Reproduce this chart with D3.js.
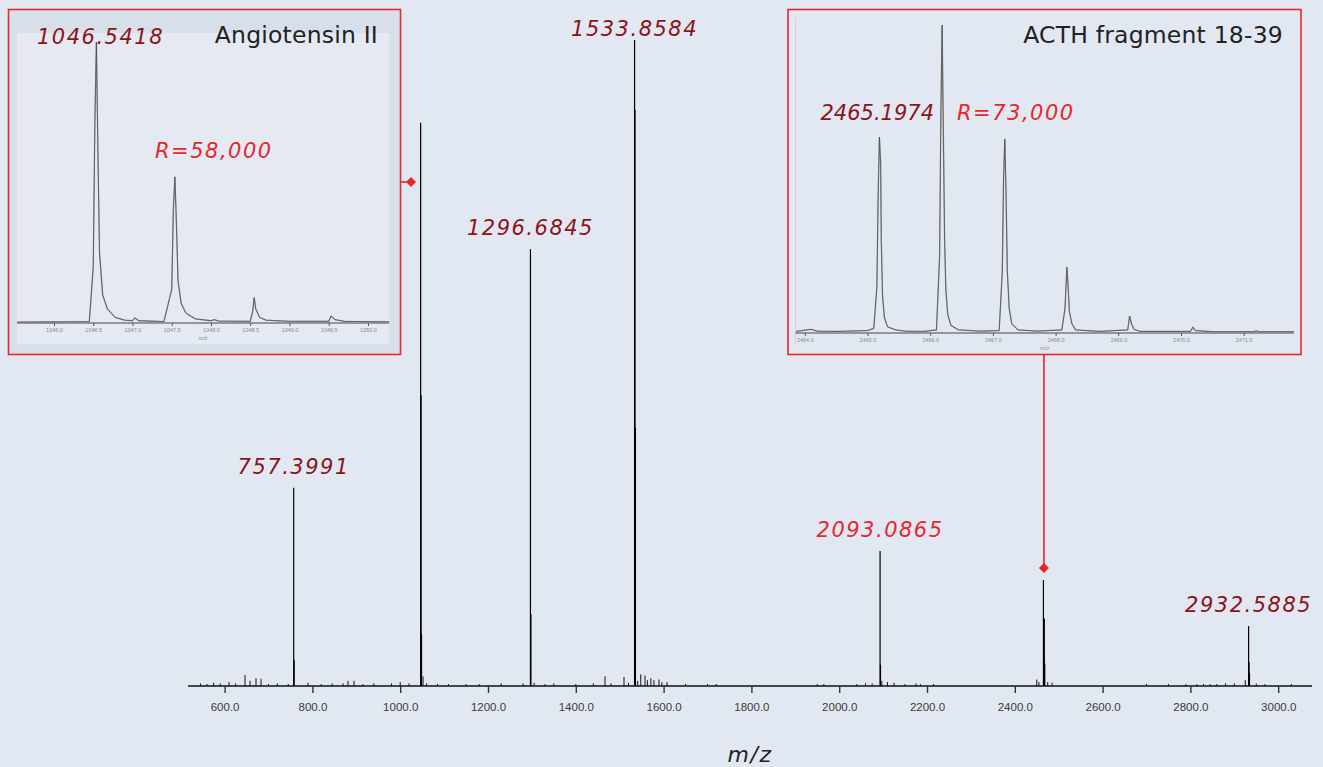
<!DOCTYPE html>
<html>
<head>
<meta charset="utf-8">
<script src="https://cdn.jsdelivr.net/npm/d3@7"></script>
<style>
  html, body { margin: 0; padding: 0; background: #e2e8f2; }
  svg { display: block; }
  .big { font-family: "DejaVu Sans", sans-serif; font-size: 21px; letter-spacing: 1.5px; }
  .num { font-style: italic; }
  .title { font-family: "DejaVu Sans", sans-serif; font-size: 23.5px; letter-spacing: 0.2px; }
  .tick-lbl { font-family: "Liberation Sans", Arial, sans-serif; font-size: 11.5px; fill: #3a3a3a; }
  .mini-lbl { font-family: "Liberation Sans", Arial, sans-serif; font-size: 5.5px; fill: #8a8a8a; }
</style>
</head>
<body>
<svg id="chart" width="1323" height="767"></svg>
<script>
// main spectrum: monoisotopic + isotope lines (m/z, relative intensity %)
const peakMz = [757.40, 758.40, 1046.54, 1047.54, 1048.54, 1296.68, 1297.69, 1533.86, 1534.86, 1535.86,
  2093.09, 2094.09, 2465.20, 2466.20, 2467.20, 2468.20, 2932.59, 2933.59, 2934.59];
const peakInt = [30.7, 4.0, 87.2, 45.0, 8.0, 67.6, 11.1, 100, 89.2, 40.0,
  20.9, 3.3, 16.4, 10.5, 10.4, 3.5, 9.3, 3.7, 2.0];

// small background peaks along the baseline
const noiseMz = [545, 560, 575, 590, 610, 625, 646.5, 657.9, 671.5, 682.9, 700, 720, 745, 790, 820, 845, 870, 881, 894.8,
  915, 940, 980, 1000, 1020, 1052, 1060, 1085, 1110, 1150, 1180, 1230, 1280, 1305, 1330, 1350, 1400, 1440, 1466.5,
  1480, 1509.8, 1520, 1541, 1548, 1557.6, 1563, 1571, 1578, 1589.5, 1596, 1607.8, 1650, 1700, 1720, 1950, 1965,
  2040, 2060, 2075, 2097, 2110, 2125, 2150, 2175, 2185, 2215, 2450, 2455, 2475, 2485, 2700, 2750, 2790, 2815,
  2830, 2845, 2860, 2880, 2900, 2925, 2950, 2970, 3030];
const noiseInt = [0.4, 0.3, 0.5, 0.4, 0.6, 0.4, 1.7, 0.8, 1.2, 1.1, 0.3, 0.4, 0.3, 0.5, 0.3, 0.4, 0.4, 0.8, 0.8,
  0.3, 0.4, 0.4, 0.6, 0.4, 1.5, 0.4, 0.3, 0.3, 0.3, 0.3, 0.4, 0.4, 0.5, 0.3, 0.4, 0.3, 0.4, 1.5,
  0.4, 1.4, 0.5, 0.8, 1.8, 1.6, 0.9, 1.2, 0.9, 1.0, 0.6, 0.6, 0.3, 0.3, 0.3, 0.3, 0.3,
  0.3, 0.4, 0.4, 0.8, 0.6, 0.5, 0.3, 0.4, 0.3, 0.3, 1.0, 0.6, 0.6, 0.5, 0.3, 0.3, 0.3, 0.3,
  0.3, 0.3, 0.3, 0.4, 0.4, 0.9, 0.4, 0.3, 0.3];

const mainTicks = [600, 800, 1000, 1200, 1400, 1600, 1800, 2000, 2200, 2400, 2600, 2800, 3000];

const labelText = ['757.3991', '1296.6845', '1533.8584', '2093.0865', '2932.5885'];
const labelMz = [757.40, 1296.68, 1533.86, 2093.09, 2932.59];
const labelTop = [30.7, 67.6, 100, 20.9, 9.3];
const labelRed = [false, false, false, true, false];

// Angiotensin II inset profile
const angioMz = [1045.53, 1046.0, 1046.45, 1046.50, 1046.52, 1046.54, 1046.56, 1046.58, 1046.62, 1046.68, 1046.78, 1046.9,
  1047.0, 1047.03, 1047.08, 1047.4, 1047.50, 1047.52, 1047.54, 1047.56, 1047.58, 1047.62, 1047.68, 1047.8, 1048.0,
  1048.04, 1048.1, 1048.5, 1048.53, 1048.55, 1048.57, 1048.62, 1048.7, 1049.0, 1049.5, 1049.53, 1049.58, 1049.7, 1050.27];
const angioInt = [0.3, 0.4, 0.5, 20, 70, 100, 60, 25, 10, 5, 2, 1,
  0.8, 1.8, 0.8, 0.5, 12, 40, 52, 35, 15, 7, 3.5, 1.5, 0.8,
  1.2, 0.7, 0.6, 4, 9, 5, 2, 1, 0.6, 0.6, 2.5, 1.2, 0.6, 0.4];
const angioTicks = [1046.0, 1046.5, 1047.0, 1047.5, 1048.0, 1048.5, 1049.0, 1049.5, 1050.0];

// ACTH fragment 18-39 inset profile
const acthMz = [2463.86, 2464.1, 2464.2, 2464.5, 2465.0, 2465.1, 2465.15, 2465.17, 2465.19, 2465.21, 2465.22, 2465.24,
  2465.27, 2465.32, 2465.45, 2465.6, 2465.9, 2466.1, 2466.15, 2466.17, 2466.19, 2466.21, 2466.23, 2466.25, 2466.28,
  2466.33, 2466.45, 2466.8, 2467.1, 2467.15, 2467.17, 2467.19, 2467.21, 2467.23, 2467.26, 2467.3, 2467.4, 2467.7,
  2468.1, 2468.15, 2468.18, 2468.20, 2468.22, 2468.26, 2468.32, 2468.7, 2469.15, 2469.18, 2469.21, 2469.25, 2469.35,
  2470.15, 2470.19, 2470.23, 2470.5, 2471.15, 2471.2, 2471.25, 2471.8];
const acthInt = [0.5, 1.2, 0.6, 0.5, 0.8, 1.5, 15, 45, 63.6, 55, 30, 12,
  5, 2, 1, 0.6, 0.5, 1, 25, 70, 100, 65, 30, 14, 6,
  2.5, 1, 0.6, 0.8, 20, 50, 63, 45, 20, 8, 3, 1, 0.6,
  1, 8, 21.4, 15, 7, 3, 1, 0.5, 1, 5.5, 3, 1.2, 0.5,
  0.5, 1.9, 0.8, 0.4, 0.4, 0.7, 0.4, 0.4];
const acthTicks = [2464.0, 2465.0, 2466.0, 2467.0, 2468.0, 2469.0, 2470.0, 2471.0];

const RED = '#e8262d';
const DARKRED = '#8c1418';

const svg = d3.select('#chart');

// ---- main spectrum ----
const x = d3.scaleLinear().domain([516.6, 3077]).range([188, 1312]);
const y = d3.scaleLinear().domain([0, 100]).range([686, 40]);

const g = svg.append('g');

g.selectAll('.noise')
  .data(d3.zip(noiseMz, noiseInt))
  .enter()
  .append('line')
  .attr('x1', (d) => x(d[0])).attr('x2', (d) => x(d[0]))
  .attr('y1', y(0)).attr('y2', (d) => y(d[1]))
  .attr('stroke', '#111').attr('stroke-width', 1);

g.selectAll('.peak')
  .data(d3.zip(peakMz, peakInt))
  .enter()
  .append('line')
  .attr('x1', (d) => x(d[0])).attr('x2', (d) => x(d[0]))
  .attr('y1', y(0)).attr('y2', (d) => y(d[1]))
  .attr('stroke', '#000').attr('stroke-width', 1.2);

const xAxis = d3.axisBottom(x)
  .tickValues(mainTicks)
  .tickSize(7)
  .tickFormat(d3.format('.1f'));

const ax = g.append('g')
  .attr('transform', 'translate(0,' + y(0) + ')')
  .call(xAxis);
ax.select('.domain').attr('stroke', '#111').attr('stroke-width', 1.6).attr('d', 'M188,0H1312');
ax.selectAll('.tick line').attr('stroke', '#333').attr('stroke-width', 1.4);
ax.selectAll('.tick text').attr('class', 'tick-lbl').attr('dy', '1.3em').attr('fill', null).attr('font-size', null).attr('font-family', null);

svg.append('text')
  .attr('class', 'big num')
  .attr('x', 750).attr('y', 762)
  .attr('text-anchor', 'middle')
  .attr('fill', '#222')
  .style('font-size', '22px')
  .text('m/z');

svg.selectAll('.plabel')
  .data(labelText)
  .enter()
  .append('text')
  .attr('class', 'big num')
  .attr('x', (d, i) => x(labelMz[i]))
  .attr('y', (d, i) => Math.max(36, y(labelTop[i]) - 14))
  .attr('text-anchor', 'middle')
  .attr('fill', (d, i) => (labelRed[i] ? RED : DARKRED))
  .text((d) => d);

// ---- insets ----
function drawInset(opt) {
  const ig = svg.append('g');
  if (opt.band) {
    ig.append('rect')
      .attr('x', opt.box[0]).attr('y', opt.box[1])
      .attr('width', opt.box[2] - opt.box[0]).attr('height', opt.box[3] - opt.box[1])
      .attr('fill', '#d7dfeb');
    ig.append('rect')
      .attr('x', opt.inner[0]).attr('y', opt.inner[1])
      .attr('width', opt.inner[2] - opt.inner[0]).attr('height', opt.inner[3] - opt.inner[1])
      .attr('fill', '#e4e9f2');
  } else {
    ig.append('line')
      .attr('x1', opt.inner[0]).attr('x2', opt.inner[0])
      .attr('y1', opt.inner[1]).attr('y2', opt.inner[3])
      .attr('stroke', '#cdd3dc').attr('stroke-width', 1);
  }

  const sx = d3.scaleLinear().domain(opt.xDomain).range(opt.xRange);
  const sy = d3.scaleLinear().domain([0, 100]).range(opt.yRange);

  const axis = d3.axisBottom(sx)
    .tickValues(opt.ticks)
    .tickSize(3)
    .tickFormat(d3.format('.1f'));
  const a = ig.append('g')
    .attr('transform', 'translate(0,' + opt.yRange[0] + ')')
    .call(axis);
  a.select('.domain').attr('stroke', '#444').attr('stroke-width', 1.2)
    .attr('d', 'M' + opt.inner[0] + ',0H' + opt.inner[2]);
  a.selectAll('.tick line').attr('stroke', '#555');
  a.selectAll('.tick text').attr('class', 'mini-lbl').attr('y', 5)
    .attr('fill', null).attr('font-size', null).attr('font-family', null);

  ig.append('text')
    .attr('class', 'mini-lbl')
    .attr('x', (opt.inner[0] + opt.inner[2]) / 2)
    .attr('y', opt.yRange[0] + opt.mzDy)
    .attr('text-anchor', 'middle')
    .text('m/z');

  const line = d3.line()
    .x((d) => sx(d[0]))
    .y((d) => sy(d[1]));

  ig.append('path')
    .datum(d3.zip(opt.mz, opt.int))
    .attr('d', line)
    .attr('fill', 'none')
    .attr('stroke', '#9a9a9a')
    .attr('stroke-width', 1.3);
  ig.append('path')
    .datum(d3.zip(opt.mz, opt.int))
    .attr('d', line)
    .attr('fill', 'none')
    .attr('stroke', '#3a3a3a')
    .attr('stroke-width', 0.6);

  ig.append('rect')
    .attr('x', opt.box[0]).attr('y', opt.box[1])
    .attr('width', opt.box[2] - opt.box[0]).attr('height', opt.box[3] - opt.box[1])
    .attr('fill', 'none')
    .attr('stroke', RED)
    .attr('stroke-width', 1.6);
  return ig;
}

const left = drawInset({
  box: [8.5, 9.5, 400.5, 354.5],
  inner: [17, 33, 389, 344],
  band: true,
  xDomain: [1046.0, 1050.0], xRange: [54, 368],
  yRange: [323, 42],
  ticks: angioTicks,
  mz: angioMz, int: angioInt,
  mzDy: 17
});
left.append('text').attr('class', 'big num').attr('x', 37).attr('y', 44).attr('fill', DARKRED).text('1046.5418');
left.append('text').attr('class', 'big num').attr('x', 155).attr('y', 158).attr('fill', RED).text('R=58,000');
left.append('text').attr('class', 'title').attr('x', 378).attr('y', 43).attr('text-anchor', 'end').attr('fill', '#222').text('Angiotensin II');

const right = drawInset({
  box: [788, 9.5, 1301, 354.5],
  inner: [795.5, 17, 1294, 345],
  band: false,
  xDomain: [2464.0, 2471.0], xRange: [804.8, 1243.7],
  yRange: [333, 25],
  ticks: acthTicks,
  mz: acthMz, int: acthInt,
  mzDy: 17
});
right.append('text').attr('class', 'big num').attr('x', 934).attr('y', 120).attr('text-anchor', 'end')
  .style('letter-spacing', '0px').attr('fill', DARKRED).text('2465.1974');
right.append('text').attr('class', 'big num').attr('x', 957).attr('y', 120).attr('fill', RED).text('R=73,000');
right.append('text').attr('class', 'title').attr('x', 1283).attr('y', 43).attr('text-anchor', 'end').attr('fill', '#222').text('ACTH fragment 18-39');

// ---- connectors ----
const diamond = d3.symbol().type(d3.symbolSquare).size(50);
const lx = 411, ly = 182;
svg.append('line').attr('x1', 400.5).attr('x2', lx).attr('y1', ly).attr('y2', ly).attr('stroke', RED).attr('stroke-width', 1.6);
svg.append('path').attr('d', diamond).attr('transform', 'translate(' + lx + ',' + ly + ') rotate(45)').attr('fill', RED);

const rx = x(2465.20) + 0.5, ry = 568;
svg.append('line').attr('x1', rx).attr('x2', rx).attr('y1', 354.5).attr('y2', ry).attr('stroke', RED).attr('stroke-width', 1.6);
svg.append('path').attr('d', diamond).attr('transform', 'translate(' + rx + ',' + ry + ') rotate(45)').attr('fill', RED);
</script>
</body>
</html>
